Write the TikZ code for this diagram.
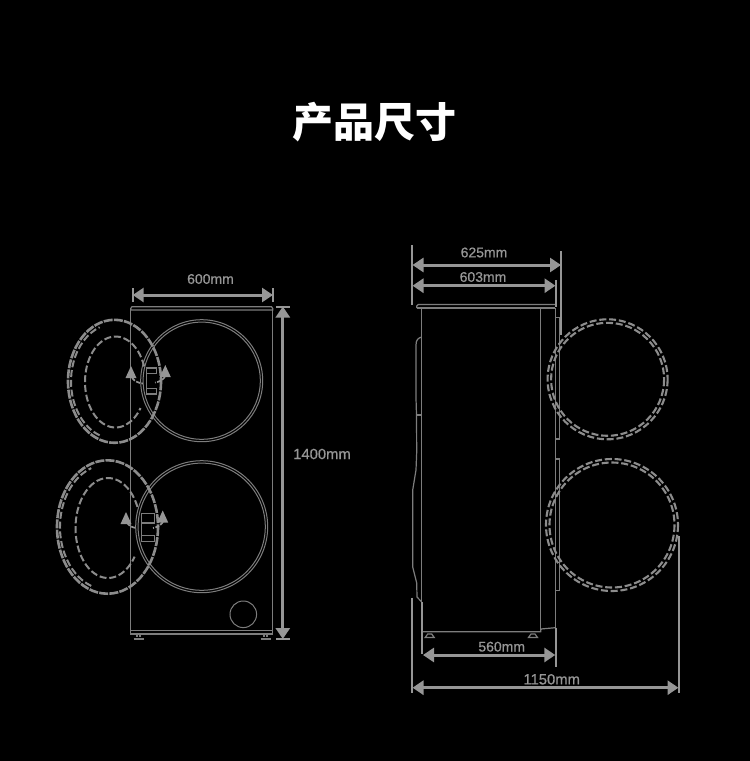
\documentclass[tikz,border=0pt]{standalone}
\usepackage{fontspec}
\setmainfont{Liberation Sans}
\newfontfamily\cjk{Noto Sans CJK SC}
\newfontfamily\dimfont[FakeBold=0.6]{Liberation Sans}
\usepackage{tikz}
\usetikzlibrary{arrows.meta}
\definecolor{dimgrey}{RGB}{150,150,150}
\definecolor{linegrey}{RGB}{125,125,125}
\definecolor{doorgrey}{RGB}{140,140,140}
\tikzset{>=stealth}
\tikzset{
  dimline/.style={{Triangle[length=11pt,width=14pt]}-{Triangle[length=11pt,width=14pt]},dimgrey,line width=3pt},
  dimtick/.style={dimgrey,line width=2pt},
  dimlabel/.style={text=dimgrey,font=\dimfont\fontsize{14}{14}\selectfont,inner sep=0pt},
  widelabel/.style={dimlabel,font=\dimfont\fontsize{14.8}{15}\selectfont},
  body/.style={linegrey,line width=1.2pt},
  ring/.style={linegrey,line width=1pt},
  doorout/.style={doorgrey,line width=2.6pt,dash pattern=on 9pt off 1.2pt},
  doordash/.style={doorgrey,line width=2pt,dash pattern=on 7pt off 2.8pt},
  hinge/.style={linegrey,line width=1.3pt},
  turn/.style={dimgrey,line width=1.7pt,dash pattern=on 4pt off 1.5pt},
  turntip/.style={fill=dimgrey,draw=none}
}
\begin{document}
\begin{tikzpicture}[x=1pt,y=-1pt]
    \fill[black] (0,0) rectangle (750,761);
    \useasboundingbox (0,0) rectangle (750,761);
    \node[text=white,inner sep=0pt,font={\cjk\bfseries\fontsize{41}{41}\selectfont}] (title) at (374,122) {产品尺寸};

    % front view
    \draw[body] (130.7,310) -- (130.7,631);
    \draw[body] (272.7,310) -- (272.7,631);
    \draw[body] (130.7,310) -- (130.7,308.5) -- (132,306.7) -- (271.5,306.7) -- (272.7,308.5) -- (272.7,310) -- cycle;
    \draw[body] (130.7,630.5) rectangle (272.7,634);
    \foreach \fx in {138.5,265.5} {
        \draw[body] (\fx-1.5,634) -- (\fx-1.5,637);
        \draw[body] (\fx+1.5,634) -- (\fx+1.5,637);
        \draw[body,line width=1.8pt] (\fx-5,639) -- (\fx+5,639);
    }
    \foreach \cy/\rr in {380.7/61,526.7/66} {
        \draw[ring] (201.7,\cy) circle[radius=\rr];
        \draw[ring] (201.7,\cy) circle[radius=\rr-2.4];
    }
    \draw[ring] (243.3,614.3) circle[radius=13.3];

    % open doors, front view
    \foreach \cx/\cy/\ox/\oy in {114.5/381.3/46.5/61.5, 107.5/527/50.5/66.7} {
        \draw[doorout] (\cx,\cy) ellipse[x radius=\ox,y radius=\oy];
    }
    \draw[doordash] ([shift={(110:43.5 and 57.5)}]114.5,381.3) arc[start angle=110,end angle=250,x radius=43.5,y radius=57.5];
    \draw[doordash] ([shift={(110:47.5 and 62.7)}]107.5,527) arc[start angle=110,end angle=250,x radius=47.5,y radius=62.7];
    \draw[doordash] ([shift={(-20:30.5 and 45.5)}]115.5,382) arc[start angle=-20,end angle=-325,x radius=30.5,y radius=45.5];
    \draw[doordash] ([shift={(-25:32.5 and 50)}]108,528) arc[start angle=-25,end angle=-325,x radius=32.5,y radius=50];

    % hinges and turning arrows
    \foreach \hx/\hy/\hw/\hh in {146.7/368/10/5.5, 146.7/388.5/10/5.5, 141.7/513.5/13/9.5, 141.7/535.5/13/6} {
        \draw[hinge] (\hx,\hy) rectangle ++(\hw,\hh);
    }
    \draw[hinge] (146.7,373.5) -- (146.7,388.5);
    \draw[hinge] (141.7,523) -- (141.7,535.5);
    \draw[turn] (132,378) to[bend right=20] (143,383.5);
    \draw[turn] (165,377) to[bend left=20] (155,382.5);
    \draw[turn] (127,523) to[bend right=20] (136,528);
    \draw[turn] (163,522) to[bend left=20] (153,528);
    \foreach \tx/\ty in {131/372,165.3/371,126/518,162.7/516.5} {
        \fill[turntip] (\tx,\ty-6) -- (\tx+5.5,\ty+6) -- (\tx-5.5,\ty+6) -- cycle;
    }

    % front dimensions
    \coordinate (wa) at (132.7,295);
    \coordinate (wb) at (273,295);
    \draw[dimtick] (132.7,288) -- (132.7,302);
    \draw[dimtick] (273,288) -- (273,302);
    \draw[dimline] (wa) -- (wb);
    \node[dimlabel] (widthlabel) at (210.5,279) {600mm};
    \coordinate (ha) at (282.8,306.5);
    \coordinate (hb) at (282.8,639);
    \draw[dimtick] (276,306.5) -- (290,306.5);
    \draw[dimtick] (276,639) -- (290,639);
    \draw[dimline] (ha) -- (hb);
    \node[widelabel] (heightlabel) at (322,454) {1400mm};

    % side view
    \draw[body] (421.7,308) -- (421.7,602);
    \draw[body] (540.7,308) -- (540.7,631.7);
    \draw[body] (555.3,308) -- (555.3,627.7);
    \draw[body,rounded corners=1.5pt] (416.7,308) -- (416.7,304.5) -- (555,304.5);
    \draw[body] (416.7,308) -- (555.3,308);
    \draw[body] (421.7,631.7) -- (540.7,631.7) -- (541,629) -- (555.3,627.7);
    \draw[body] (421.7,337) .. controls (418,338) and (416,340) .. (416,345) -- (416,398) -- (416.5,415) -- (416.7,452) -- (416,470) -- (412.7,490) -- (412.7,567) -- (416.7,583) -- (417,597) -- (421.7,602);
    \draw[body] (416.5,415) -- (421.7,415);
    \foreach \fx in {429.7,533} {
        \draw[body] (\fx-4.5,637.5) -- (\fx+4.5,637.5) -- (\fx+2,634) -- (\fx-2,634) -- cycle;
    }
    \draw[body] (555.7,317.7) rectangle (559.3,439);
    \draw[body] (555.7,459) rectangle (559.7,590.7);
    \foreach \cx/\cy/\ro/\ri in {607.6/379.3/60/56.5, 612/525/66/62.5} {
        \draw[doordash,line width=2.1pt] (\cx,\cy) circle[radius=\ro];
        \draw[doordash,line width=2.1pt] (\cx,\cy) circle[radius=\ri];
    }

    % side dimensions
    \draw[dimtick] (412.3,245) -- (412.3,305);
    \draw[dimtick] (561.3,251) -- (561.3,335);
    \draw[dimtick] (555.7,280) -- (555.7,307);
    \coordinate (da) at (412.5,265);
    \coordinate (db) at (561,265);
    \draw[dimline] (da) -- (db);
    \node[dimlabel] (depthlabel) at (484,252.5) {625mm};
    \coordinate (ca) at (412.5,285.7);
    \coordinate (cb) at (555.5,285.7);
    \draw[dimline] (ca) -- (cb);
    \node[dimlabel] (cabinetlabel) at (483,277) {603mm};
    \draw[dimtick] (421.7,602) -- (421.7,654);
    \draw[dimtick] (555.5,627.7) -- (555.5,667);
    \coordinate (ba) at (423,655);
    \coordinate (bb) at (555.3,655);
    \draw[dimline] (ba) -- (bb);
    \node[dimlabel] (baselabel) at (501.7,646.7) {560mm};
    \draw[dimtick] (412.3,597.7) -- (412.3,693);
    \draw[dimtick] (678.7,536) -- (678.7,693);
    \coordinate (oa) at (412.5,687.7);
    \coordinate (ob) at (678.5,687.7);
    \draw[dimline] (oa) -- (ob);
    \node[widelabel] (openlabel) at (551.7,679.3) {1150mm};
\end{tikzpicture}
\end{document}
